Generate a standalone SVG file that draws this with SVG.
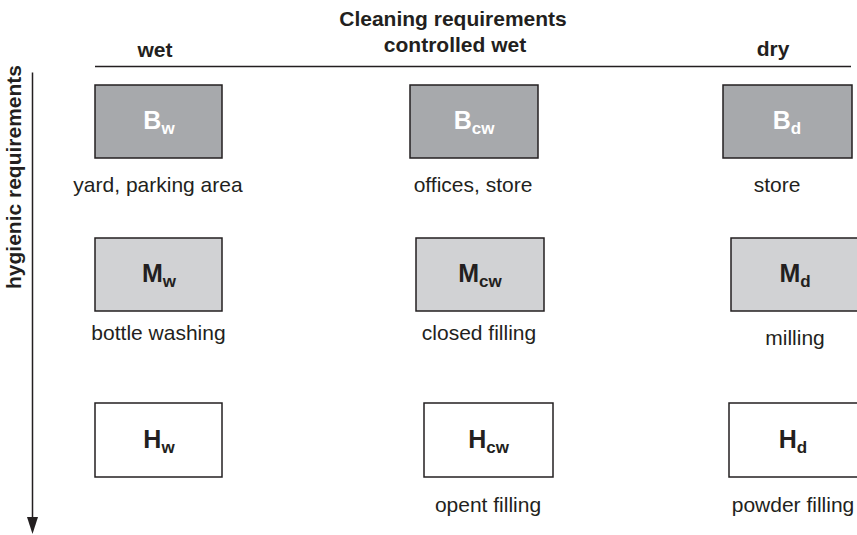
<svg xmlns="http://www.w3.org/2000/svg" width="857" height="535" viewBox="0 0 857 535">
<style>
.t{font-family:"Liberation Sans",Arial,sans-serif;fill:#231f20}
.h{font-size:21px;font-weight:bold;text-anchor:middle}
.l{font-size:21px;text-anchor:middle}
.n{font-size:25px;font-weight:bold;text-anchor:middle}
.s{font-size:17px}
.w{fill:#ffffff}
.box{stroke:#231f20;stroke-width:1.5}
.dk{fill:#a7a9ac}
.md{fill:#d1d2d4}
.wh{fill:#ffffff}
.ln{stroke:#231f20;stroke-width:1.5;fill:none}
</style>
<rect width="857" height="535" fill="#ffffff"/>
<g id="headers">
<text class="t h" x="453" y="26">Cleaning requirements</text>
<text class="t h" x="455" y="52">controlled wet</text>
<text class="t h" x="155" y="57">wet</text>
<text class="t h" x="773" y="56">dry</text>
<text class="t h" transform="translate(21,177) rotate(-90)">hygienic requirements</text>
</g>
<g id="connectors">
<line class="ln" x1="95" y1="66.5" x2="851" y2="66.5"/>
<line class="ln" x1="32.5" y1="72.5" x2="32.5" y2="518"/>
<polygon points="27,517 38,517 32.5,534" fill="#231f20"/>
</g>
<g id="Bw">
<rect class="box dk" x="95" y="85" width="127" height="73"/>
<text class="t n w" x="159" y="129">B<tspan class="s" dy="5">w</tspan></text>
<text class="t l" x="158" y="192">yard, parking area</text>
</g>
<g id="Bcw">
<rect class="box dk" x="410" y="85" width="128" height="73"/>
<text class="t n w" x="474" y="129">B<tspan class="s" dy="5">cw</tspan></text>
<text class="t l" x="473" y="192">offices, store</text>
</g>
<g id="Bd">
<rect class="box dk" x="723" y="85" width="129" height="73"/>
<text class="t n w" x="787" y="129">B<tspan class="s" dy="5">d</tspan></text>
<text class="t l" x="777" y="192">store</text>
</g>
<g id="Mw">
<rect class="box md" x="95" y="238" width="127" height="73"/>
<text class="t n" x="159" y="282">M<tspan class="s" dy="5">w</tspan></text>
<text class="t l" x="158.5" y="340">bottle washing</text>
</g>
<g id="Mcw">
<rect class="box md" x="416" y="238" width="128" height="73"/>
<text class="t n" x="480" y="282">M<tspan class="s" dy="5">cw</tspan></text>
<text class="t l" x="479" y="340">closed filling</text>
</g>
<g id="Md">
<rect class="box md" x="731" y="238" width="129" height="73"/>
<text class="t n" x="795" y="282">M<tspan class="s" dy="5">d</tspan></text>
<text class="t l" x="795" y="345">milling</text>
</g>
<g id="Hw">
<rect class="box wh" x="95" y="403" width="127" height="74"/>
<text class="t n" x="159" y="448">H<tspan class="s" dy="5">w</tspan></text>
</g>
<g id="Hcw">
<rect class="box wh" x="424" y="403" width="129" height="74"/>
<text class="t n" x="488.5" y="448">H<tspan class="s" dy="5">cw</tspan></text>
<text class="t l" x="488" y="512">opent filling</text>
</g>
<g id="Hd">
<rect class="box wh" x="729" y="403" width="130" height="74"/>
<text class="t n" x="793" y="448">H<tspan class="s" dy="5">d</tspan></text>
<text class="t l" x="793" y="512">powder filling</text>
</g>
</svg>
